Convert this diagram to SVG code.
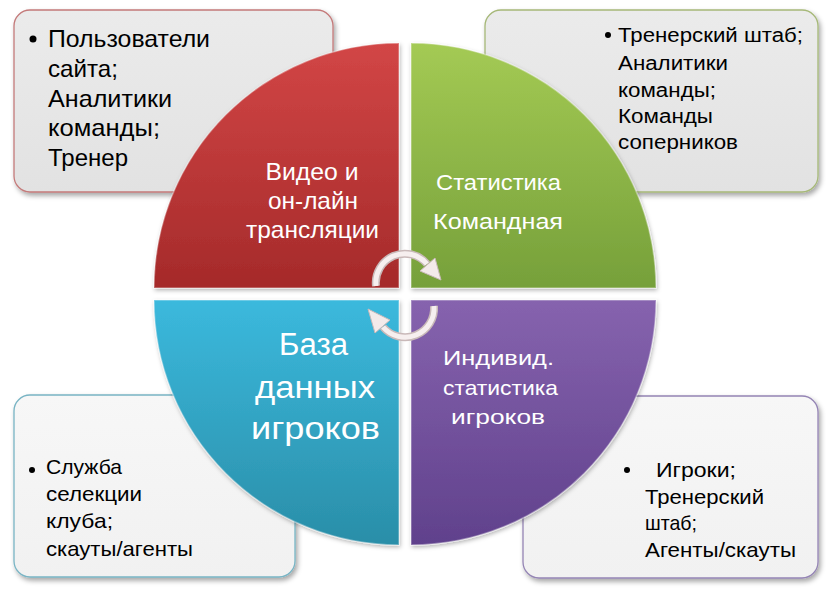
<svg xmlns="http://www.w3.org/2000/svg" width="830" height="593" viewBox="0 0 830 593">
<defs>
<filter id="sh" x="-10%" y="-10%" width="125%" height="130%"><feDropShadow dx="2" dy="3" stdDeviation="2.5" flood-color="#000" flood-opacity="0.35"/></filter>
<filter id="qs" x="-10%" y="-10%" width="125%" height="125%"><feDropShadow dx="1" dy="2" stdDeviation="2" flood-color="#000" flood-opacity="0.3"/></filter>
<linearGradient id="gbox" x1="0" y1="0" x2="0" y2="1"><stop offset="0" stop-color="#ebebeb"/><stop offset="1" stop-color="#e2e2e2"/></linearGradient>
<linearGradient id="gbox2" x1="0" y1="0" x2="0" y2="1"><stop offset="0" stop-color="#f7f7f7"/><stop offset="1" stop-color="#f1f1f1"/></linearGradient>
<linearGradient id="gr" x1="0" y1="0" x2="0" y2="1"><stop offset="0" stop-color="#d24646"/><stop offset="1" stop-color="#a52a2a"/></linearGradient>
<linearGradient id="gg" x1="0" y1="0" x2="0" y2="1"><stop offset="0" stop-color="#a4ca54"/><stop offset="1" stop-color="#76a03a"/></linearGradient>
<linearGradient id="gb" x1="0" y1="0" x2="0" y2="1"><stop offset="0" stop-color="#3bb9dd"/><stop offset="1" stop-color="#2a8ea8"/></linearGradient>
<linearGradient id="gp" x1="0" y1="0" x2="0" y2="1"><stop offset="0" stop-color="#8663ae"/><stop offset="1" stop-color="#60418c"/></linearGradient>
</defs>
<style>
.box{stroke-width:1.3}
.bt{font-family:"Liberation Sans",Arial,sans-serif;fill:#000}
.ct{font-family:"Liberation Sans",Arial,sans-serif;fill:#fff}
.q{stroke:rgba(255,255,255,0.35);stroke-width:1.5}
.arO{fill:none;stroke:#c9b9b9;stroke-width:8}
.arI{fill:none;stroke:#f6efef;stroke-width:5}
.ah{fill:#f3eaea;stroke:#c9b9b9;stroke-width:1}
</style>

<g id="box-tl">
<rect class="box" x="14" y="10" width="319" height="182" rx="16" fill="url(#gbox)" stroke="#c47a7a" filter="url(#sh)"/>
<circle cx="33" cy="39" r="3.5" fill="#000"/>
<text class="bt" font-size="24" x="48" y="47" textLength="162" lengthAdjust="spacingAndGlyphs">Пользователи</text>
<text class="bt" font-size="24" x="48" y="77" textLength="70" lengthAdjust="spacingAndGlyphs">сайта;</text>
<text class="bt" font-size="24" x="48" y="106.5" textLength="124" lengthAdjust="spacingAndGlyphs">Аналитики</text>
<text class="bt" font-size="24" x="48" y="136" textLength="112" lengthAdjust="spacingAndGlyphs">команды;</text>
<text class="bt" font-size="24" x="48" y="166" textLength="80" lengthAdjust="spacingAndGlyphs">Тренер</text>
</g>

<g id="box-tr">
<rect class="box" x="485" y="10" width="333" height="182" rx="16" fill="url(#gbox)" stroke="#a6b878" filter="url(#sh)"/>
<circle cx="608" cy="35" r="3" fill="#000"/>
<text class="bt" font-size="20" x="618" y="42" textLength="185" lengthAdjust="spacingAndGlyphs">Тренерский штаб;</text>
<text class="bt" font-size="20" x="618" y="70" textLength="110" lengthAdjust="spacingAndGlyphs">Аналитики</text>
<text class="bt" font-size="20" x="618" y="97" textLength="98" lengthAdjust="spacingAndGlyphs">команды;</text>
<text class="bt" font-size="20" x="618" y="123" textLength="95" lengthAdjust="spacingAndGlyphs">Команды</text>
<text class="bt" font-size="20" x="618" y="149" textLength="120" lengthAdjust="spacingAndGlyphs">соперников</text>
</g>

<g id="box-bl">
<rect class="box" x="14" y="395" width="281" height="182" rx="16" fill="url(#gbox2)" stroke="#78b4c4" filter="url(#sh)"/>
<circle cx="32" cy="470" r="3" fill="#000"/>
<text class="bt" font-size="21" x="46" y="474" textLength="76" lengthAdjust="spacingAndGlyphs">Служба</text>
<text class="bt" font-size="21" x="46" y="501" textLength="96" lengthAdjust="spacingAndGlyphs">селекции</text>
<text class="bt" font-size="21" x="46" y="528" textLength="67" lengthAdjust="spacingAndGlyphs">клуба;</text>
<text class="bt" font-size="21" x="46" y="556" textLength="147" lengthAdjust="spacingAndGlyphs">скауты/агенты</text>
</g>

<g id="box-br">
<rect class="box" x="523" y="396" width="295" height="182" rx="16" fill="url(#gbox2)" stroke="#9484b4" filter="url(#sh)"/>
<circle cx="627" cy="470" r="3" fill="#000"/>
<text class="bt" font-size="21" x="656" y="477" textLength="80" lengthAdjust="spacingAndGlyphs">Игроки;</text>
<text class="bt" font-size="21" x="645" y="504" textLength="119" lengthAdjust="spacingAndGlyphs">Тренерский</text>
<text class="bt" font-size="21" x="645" y="530" textLength="52" lengthAdjust="spacingAndGlyphs">штаб;</text>
<text class="bt" font-size="21" x="645" y="557" textLength="151" lengthAdjust="spacingAndGlyphs">Агенты/скауты</text>
</g>

<g id="q-red">
<path class="q" d="M399,288 L154,288 A245,245 0 0 1 399,43 Z" fill="url(#gr)" filter="url(#qs)"/>
<text class="ct" font-size="24" x="312" y="180" text-anchor="middle" textLength="93" lengthAdjust="spacingAndGlyphs">Видео и</text>
<text class="ct" font-size="24" x="313" y="209" text-anchor="middle" textLength="90" lengthAdjust="spacingAndGlyphs">он-лайн</text>
<text class="ct" font-size="24" x="312.5" y="238" text-anchor="middle" textLength="133" lengthAdjust="spacingAndGlyphs">трансляции</text>
</g>

<g id="q-green">
<path class="q" d="M411,288 L411,43 A245,245 0 0 1 656,288 Z" fill="url(#gg)" filter="url(#qs)"/>
<text class="ct" font-size="22" x="498.5" y="190" text-anchor="middle" textLength="125" lengthAdjust="spacingAndGlyphs">Статистика</text>
<text class="ct" font-size="22" x="498" y="229" text-anchor="middle" textLength="130" lengthAdjust="spacingAndGlyphs">Командная</text>
</g>

<g id="q-blue">
<path class="q" d="M399,300 L399,545 A245,245 0 0 1 154,300 Z" fill="url(#gb)" filter="url(#qs)"/>
<text class="ct" font-size="31" x="313.5" y="355" text-anchor="middle" textLength="69" lengthAdjust="spacingAndGlyphs">База</text>
<text class="ct" font-size="31" x="315" y="398" text-anchor="middle" textLength="120" lengthAdjust="spacingAndGlyphs">данных</text>
<text class="ct" font-size="31" x="315.5" y="439" text-anchor="middle" textLength="129" lengthAdjust="spacingAndGlyphs">игроков</text>
</g>

<g id="q-purple">
<path class="q" d="M411,300 L656,300 A245,245 0 0 1 411,545 Z" fill="url(#gp)" filter="url(#qs)"/>
<text class="ct" font-size="21" x="498.5" y="365" text-anchor="middle" textLength="111" lengthAdjust="spacingAndGlyphs">Индивид.</text>
<text class="ct" font-size="21" x="500.5" y="395" text-anchor="middle" textLength="115" lengthAdjust="spacingAndGlyphs">статистика</text>
<text class="ct" font-size="21" x="498" y="424" text-anchor="middle" textLength="94" lengthAdjust="spacingAndGlyphs">игроков</text>
</g>

<g id="connectors">
<path class="arO" d="M376,286 A29,29 0 0 1 427,264"/>
<path class="arI" d="M376,286 A29,29 0 0 1 427,264"/>
<polygon class="ah" points="435,258 420,271 441,280"/>
<path class="arO" d="M434,306 A29,29 0 0 1 383,327"/>
<path class="arI" d="M434,306 A29,29 0 0 1 383,327"/>
<polygon class="ah" points="375,333 390,320 368,309"/>
</g>
</svg>
